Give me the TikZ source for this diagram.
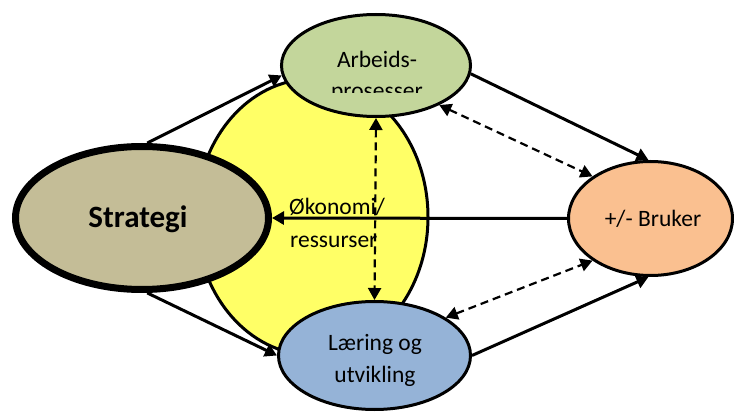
\documentclass[tikz,border=0pt]{standalone}
\usepackage{fontspec}
\setmainfont{Carlito}
\usetikzlibrary{shapes.geometric,arrows.meta}
\definecolor{yel}{HTML}{FFFF66}
\definecolor{grn}{HTML}{C3D69B}
\definecolor{blu}{HTML}{95B3D7}
\definecolor{org}{HTML}{FAC090}
\definecolor{tan}{HTML}{C4BD97}
\tikzset{
  ell/.style={ellipse, draw=black, line width=3pt, inner sep=0pt},
  lbl/.style={font=\fontsize{23.5}{32}\selectfont, align=center, inner sep=0pt},
  arr/.style={line width=3pt, -{Triangle[length=12pt,width=13pt]}},
  darr/.style={line width=2.2pt, dash pattern=on 8pt off 5pt, {Triangle[length=12pt,width=13pt]}-{Triangle[length=12pt,width=13pt]}},
}
\begin{document}
\begin{tikzpicture}[x=1pt,y=-1pt]
\useasboundingbox (0,0) rectangle (734,414);
% yellow background ellipse
\node[ell, fill=yel, minimum width=232pt, minimum height=276pt] (eco) at (312,217) {};
% ellipses
\node[ell, fill=grn, minimum width=189pt, minimum height=102pt] (arb) at (376,65.5) {};
\node[ell, fill=blu, minimum width=192pt, minimum height=108pt] (lear) at (374.5,355.5) {};
\node[ell, fill=org, minimum width=164pt, minimum height=114pt] (bruk) at (650.5,218.5) {};
\node[ell, fill=tan, line width=7pt, minimum width=253pt, minimum height=143pt] (strat) at (142,218) {};
% texts
\node[lbl, anchor=base] (arbt1) at (377,68) {Arbeids-};
\begin{scope}
  \clip (280,70) rectangle (472,93);
  \node[lbl, anchor=base] (arbt2) at (377,99) {prosesser};
\end{scope}
\node[lbl, anchor=base] (leart1) at (375,350) {Læring og};
\node[lbl, anchor=base] (leart2) at (375,382) {utvikling};
\node[lbl, anchor=base] (brukt) at (653,227) {+/- Bruker};
\node[lbl, anchor=base, font=\fontsize{31}{36}\selectfont\bfseries] (stratt) at (138,228) {Strategi};
\node[lbl, anchor=base west] (ecot1) at (289,215) {Økonomi/};
\node[lbl, anchor=base west] (ecot2) at (290,248) {ressurser};
% connectors
\draw[arr] (strat.86) -- (arb.186);
\draw[arr] (strat.274) -- (lear.180);
\draw[arr] (arb.355) -- (bruk.92);
\draw[arr] (lear.0) -- (bruk.268);
\draw[arr] (bruk.west) -- (strat.east);
\draw[darr] (arb.328) -- (bruk.144);
\draw[darr] (lear.28) -- (bruk.216);
\draw[darr] (arb.south) -- (lear.north);
\end{tikzpicture}
\end{document}
